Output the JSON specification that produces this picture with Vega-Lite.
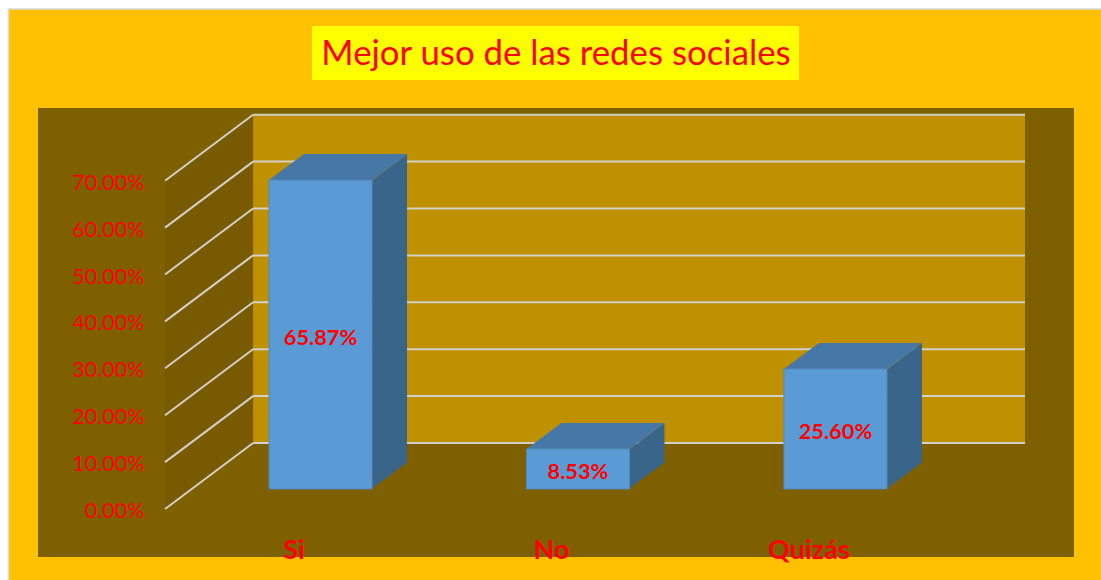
{
"$schema":"https://vega.github.io/schema/vega-lite/v6.json",
"width":1036,"height":449,
"autosize":{"type":"none"},
"padding":{"left":38,"top":108,"right":27,"bottom":23},
"background":"#FFC000",
"title":{"text":"Mejor uso de las redes sociales","color":"#FF0000","font":"Lato","fontSize":34.8,"fontWeight":"normal","anchor":"middle","baseline":"alphabetic","offset":-114},
"config":{"view":{"fill":"#7F6000","stroke":null},"font":"Lato"},
"datasets":{
"filas":[{"respuesta":"Si","valor":0.6587},{"respuesta":"No","valor":0.0853},{"respuesta":"Quizás","valor":0.256}],
"marcas":[{"marca":0},{"marca":0.1},{"marca":0.2},{"marca":0.3},{"marca":0.4},{"marca":0.5},{"marca":0.6},{"marca":0.7}],
"origen":[{"respuesta":"Si","marca":0}]
},
"data":{"name":"filas"},
"layer":[
{"encoding":{
"x":{"field":"respuesta","type":"nominal","title":null,"sort":null,"scale":{"type":"band","domain":["Si","No","Quizás"],"paddingInner":0.6,"paddingOuter":0.812,"align":0.5526},"axis":{"labelAngle":0,"labelColor":"#FF0000","labelFont":"Lato","labelFontSize":27,"labelFontWeight":"bold","labelOffset":-26.5,"labelPadding":-20,"domain":false,"ticks":false,"grid":false}},
"y":{"field":"valor","type":"quantitative","title":null,"scale":{"domain":[-0.1023,0.855],"nice":false,"zero":false},"axis":{"values":[0,0.1,0.2,0.3,0.4,0.5,0.6,0.7],"format":".2%","labelColor":"#FF0000","labelFont":"Lato","labelFontSize":21.5,"labelFontWeight":"normal","labelPadding":0,"labelOffset":2.5,"offset":-106,"domain":false,"ticks":false,"grid":false}}
},
"layer":[
{"data":{"name":"origen"},"mark":{"type":"point","filled":true,"opacity":1,"size":4,"fill":"#FFFFFF","stroke":"#D9D9D9","strokeWidth":1.5,"shape":"M-340 -520L790 -520L790 -500L-312 -500L-312 90L-340 90Z"},"encoding":{"y":{"field":"marca","type":"quantitative"}}},
{"data":{"name":"origen"},"mark":{"type":"point","filled":true,"opacity":1,"size":4,"fill":"#FFFF00","strokeWidth":0,"shape":"M-8.5 -483L478.5 -483L478.5 -429L-8.5 -429Z"},"encoding":{"y":{"field":"marca","type":"quantitative"}}},
{"data":{"name":"origen"},"mark":{"type":"point","filled":true,"opacity":1,"size":4,"fill":"#BF9000","strokeWidth":0,"shape":"M-67.5 -66L704.5 -66L704.5 -395L-67.5 -395Z"},"encoding":{"y":{"field":"marca","type":"quantitative"}}},
{"data":{"name":"origen"},"mark":{"type":"point","filled":true,"opacity":1,"size":4,"fill":"#785A00","strokeWidth":0,"shape":"M-155.5 0L-67.5 -66L-67.5 -395L-155.5 -328Z"},"encoding":{"y":{"field":"marca","type":"quantitative"}}},
{"data":{"name":"marcas"},"mark":{"type":"rule","color":"#D2D0C8","strokeWidth":2,"xOffset":-67.5,"x2Offset":189.5,"yOffset":-66,"y2Offset":-66},"encoding":{"x":{"datum":"Si"},"x2":{"datum":"Quizás"},"y":{"field":"marca","type":"quantitative"},"y2":{"field":"marca"}}},
{"data":{"name":"marcas"},"mark":{"type":"rule","color":"#D2D0C8","strokeWidth":2,"xOffset":-155.5,"x2Offset":-67.5,"y2Offset":-66},"encoding":{"x":{"datum":"Si"},"x2":{"datum":"Si"},"y":{"field":"marca","type":"quantitative"},"y2":{"field":"marca"}}},
{"mark":{"type":"bar","fill":"#3A658A","width":35,"xOffset":69,"yOffset":-20,"y2Offset":-46},"encoding":{"y2":{"datum":0}}},
{"mark":{"type":"point","filled":true,"opacity":1,"size":4,"fill":"#3A658A","strokeWidth":0,"yOffset":-20,"shape":"M51.5 0.5L86.5 0.5L86.5 -26Z"}},
{"mark":{"type":"point","filled":true,"opacity":1,"size":4,"fill":"#3A658A","strokeWidth":0,"yOffset":-20,"shape":"M51 -26.5L86.5 -26.5L51 0Z"},"encoding":{"y":{"datum":0}}},
{"mark":{"type":"point","filled":true,"opacity":1,"size":4,"fill":"#4578A6","strokeWidth":0,"yOffset":-20,"shape":"M-51.5 0L51.5 0L86.5 -26L-16.5 -26Z"}},
{"mark":{"type":"bar","fill":"#5B9BD5","stroke":"#5488B8","strokeWidth":1,"yOffset":-20,"y2Offset":-20},"encoding":{"y2":{"datum":0}}}
]},
{"mark":{"type":"text","color":"#FF0000","font":"Lato","fontSize":21.8,"fontWeight":"bold","yOffset":-17,"baseline":"middle"},
"encoding":{
"x":{"field":"respuesta","type":"nominal","sort":null},
"y":{"field":"valor","type":"quantitative","axis":null,"scale":{"domain":[-0.2046,1.71],"nice":false,"zero":false}},
"text":{"field":"valor","type":"quantitative","format":".2%"}
}}
],
"resolve":{"scale":{"y":"independent"}}
}
